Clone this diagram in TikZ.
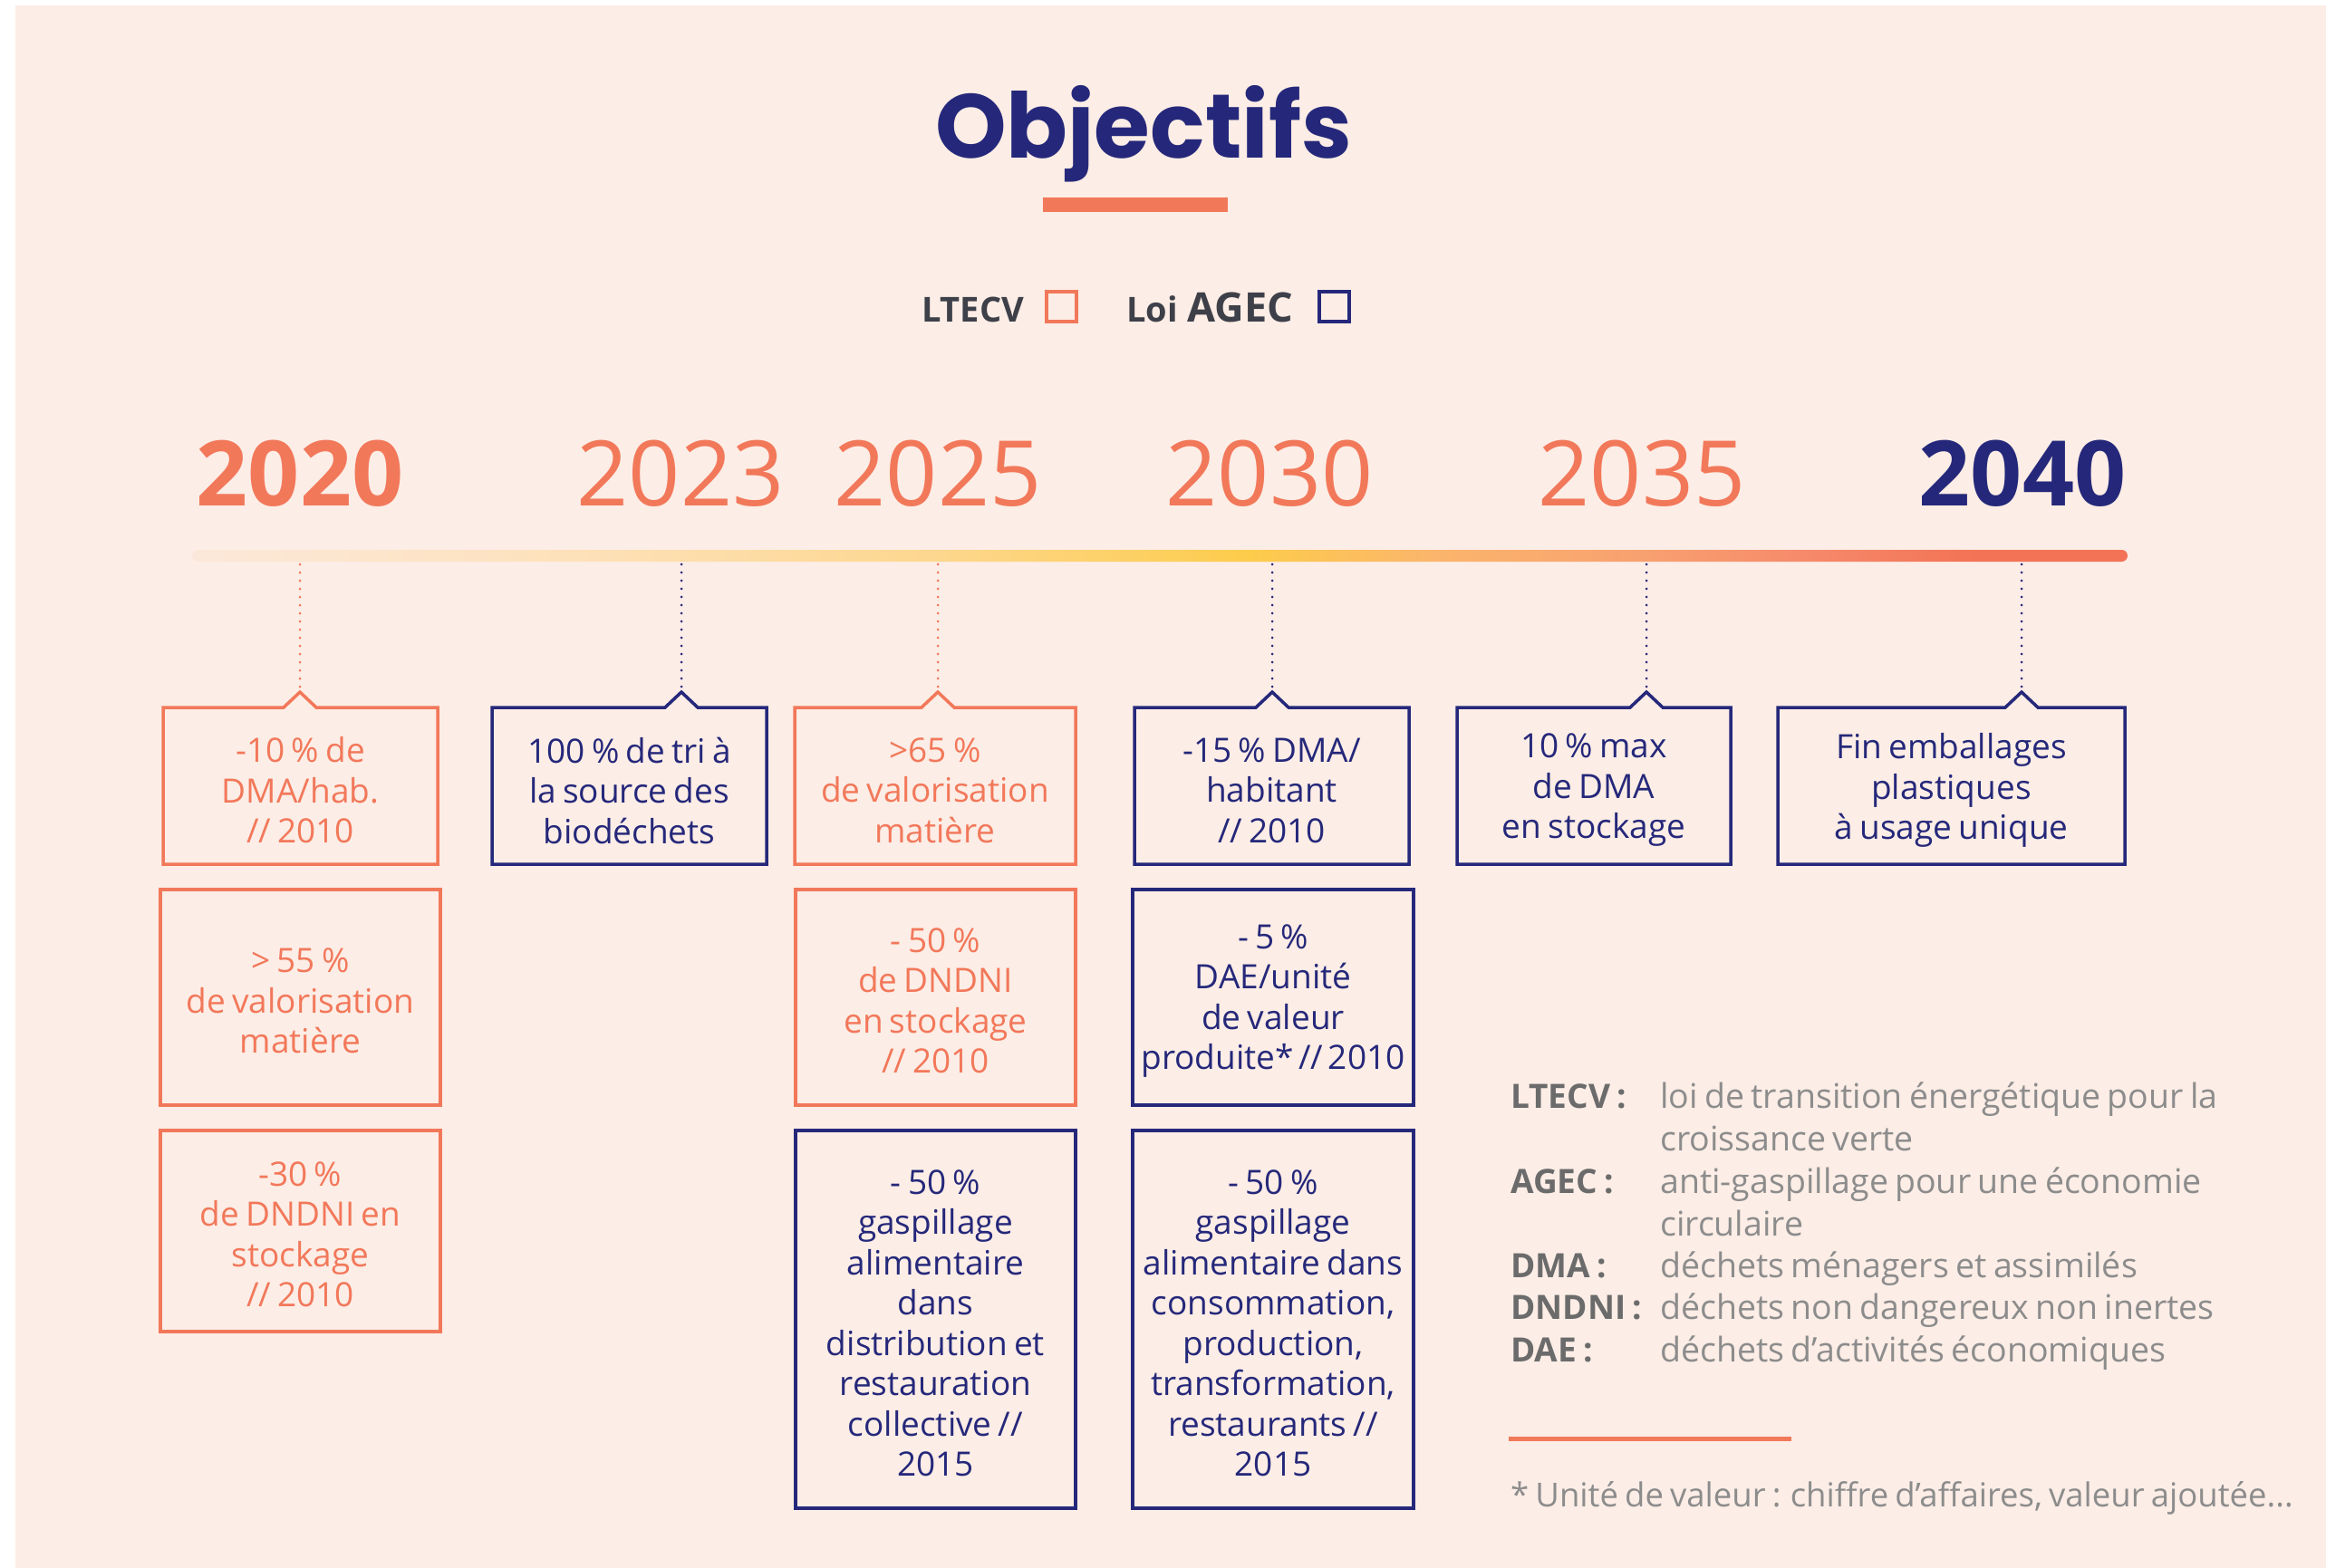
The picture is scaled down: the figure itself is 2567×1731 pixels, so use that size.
\documentclass[tikz,border=0pt]{standalone}
\usepackage{fontspec}
\setmainfont{Open Sans}[WordSpace=0.75]
\newfontfamily\titlefont{Poppins}
\usetikzlibrary{calc}
\definecolor{bg}{HTML}{FCEDE6}
\definecolor{coral}{HTML}{F2785A}
\definecolor{navy}{HTML}{25287A}
\definecolor{dgray}{HTML}{3E4049}
\definecolor{lgray}{HTML}{8C8C8C}
\definecolor{mgray}{HTML}{6B6B6B}
\definecolor{g0}{HTML}{FCE8DA}
\definecolor{g1}{HTML}{FDE3C2}
\definecolor{g2}{HTML}{FDD78F}
\definecolor{g3}{HTML}{FDCC4B}
\definecolor{g4}{HTML}{FBB56C}
\definecolor{g5}{HTML}{F8A070}
\definecolor{g6}{HTML}{F6896A}
\definecolor{g7}{HTML}{F37356}
\pgfdeclarehorizontalshading{tlbar}{100bp}{color(0bp)=(g0); color(25bp)=(g0); color(32.8bp)=(g1); color(44.2bp)=(g2); color(52.3bp)=(g3); color(57.1bp)=(g4); color(62.6bp)=(g5); color(66.8bp)=(g6); color(71bp)=(g7); color(75bp)=(g7); color(100bp)=(g7)}
\tikzset{
  boxshape/.style={inner sep=0pt, outer sep=0pt},
  boxtext/.style={align=center, inner sep=0pt, outer sep=0pt, yshift=-4pt, font=\fontsize{37}{44.5}\selectfont},
  ltbox/.style={boxtext, text=coral},
  agbox/.style={boxtext, text=navy},
  boxline/.style={line width=3.5pt, line join=miter},
  dotline/.style={line width=3pt, line cap=round, dash pattern=on 0pt off 9pt},
  yearbold/.style={anchor=base, inner sep=0pt, font=\bfseries\fontsize{100}{110}\selectfont},
  yearlight/.style={anchor=base, inner sep=0pt, text=coral, font=\fontsize{100}{110}\selectfont},
  deflabel/.style={anchor=base west, inner sep=0pt, text=mgray, font=\bfseries\fontsize{37}{40}\selectfont},
  deftext/.style={anchor=base west, inner sep=0pt, text=lgray, font=\fontsize{37.5}{40}\selectfont},
}
\newcommand\notchbox[3]{%
  \draw[boxline, #3] (#1.north west) -- ($(#2 |- #1.north)+(-18,0)$) -- (#2) -- ($(#2 |- #1.north)+(18,0)$) -- (#1.north east) -- (#1.south east) -- (#1.south west) -- cycle;}
\begin{document}
\begin{tikzpicture}[x=1pt,y=-1pt]
\useasboundingbox (0,0) rectangle (2567,1731);
\fill[white] (0,0) rectangle (2567,1731);
\fill[bg] (17,6) rectangle (2567,1731);

% title
\node[anchor=base, inner sep=0pt, text=navy, font=\titlefont\bfseries\fontsize{100}{110}\selectfont] (title) at (1262,175) {Objectifs};
\node[fill=coral, minimum width=204pt, minimum height=16pt, inner sep=0pt] (ul) at (1253,226) {};

% legend top
\node[anchor=base west, inner sep=0pt, text=dgray, font=\bfseries\fontsize{38}{40}\selectfont] (lt) at (1017,355) {LTECV};
\node[draw=coral, line width=3.5pt, minimum size=33pt, inner sep=0pt] (sqL) at (1171.5,338.5) {};
\node[anchor=base west, inner sep=0pt, text=dgray, font=\bfseries] (la) at (1243,355) {{\fontsize{38}{40}\selectfont Loi}\hspace{11pt}{\fontsize{45}{48}\selectfont AGEC}};
\node[draw=navy, line width=3.5pt, minimum size=33pt, inner sep=0pt] (sqA) at (1472.5,338.5) {};

% years
\node[yearbold, text=coral] (y2020) at (331,558) {2020};
\node[yearlight] (y2023) at (751,558) {2023};
\node[yearlight] (y2025) at (1035,558) {2025};
\node[yearlight] (y2030) at (1401,558) {2030};
\node[yearlight] (y2035) at (1812,558) {2035};
\node[yearbold, text=navy] (y2040) at (2232,558) {2040};

% timeline bar
\shade[shading=tlbar, rounded corners=6.5pt] (212,607) rectangle (2348,620);

% tick coordinates and notch apexes
\coordinate (t2020) at (331,623);  \coordinate (a2020) at (331,764);
\coordinate (t2023) at (752,623);  \coordinate (a2023) at (752,764);
\coordinate (t2025) at (1035,623); \coordinate (a2025) at (1035,764);
\coordinate (t2030) at (1404,623); \coordinate (a2030) at (1404,764);
\coordinate (t2035) at (1817,623); \coordinate (a2035) at (1817,764);
\coordinate (t2040) at (2231,623); \coordinate (a2040) at (2231,764);

\draw[dotline, coral] (t2020) -- (a2020);
\draw[dotline, navy] (t2023) -- (a2023);
\draw[dotline, coral] (t2025) -- (a2025);
\draw[dotline, navy] (t2030) -- (a2030);
\draw[dotline, navy] (t2035) -- (a2035);
\draw[dotline, navy] (t2040) -- (a2040);

% row 1
\node[boxshape, minimum width=303pt, minimum height=173pt] (A1) at (331.5,867.5) {};
\notchbox{A1}{a2020}{coral}
\node[ltbox, yshift=-1pt] (A1t) at (A1.center) {-10 \% de\\DMA/hab.\\// 2010};
\node[boxshape, minimum width=303pt, minimum height=173pt] (B1) at (694.5,867.5) {};
\notchbox{B1}{a2023}{navy}
\node[agbox, yshift=-1pt] (B1t) at (B1.center) {100 \% de tri à\\la source des\\biodéchets};
\node[boxshape, minimum width=310pt, minimum height=173pt] (C1) at (1032,867.5) {};
\notchbox{C1}{a2025}{coral}
\node[ltbox, yshift=-1pt] (C1t) at (C1.center) {>65 \%\\de valorisation\\matière};
\node[boxshape, minimum width=303pt, minimum height=173pt] (D1) at (1403.5,867.5) {};
\notchbox{D1}{a2030}{navy}
\node[agbox, yshift=-1pt] (D1t) at (D1.center) {-15 \% DMA/\\habitant\\// 2010};
\node[boxshape, minimum width=302pt, minimum height=173pt] (E1) at (1759,867.5) {};
\notchbox{E1}{a2035}{navy}
\node[agbox, yshift=-1pt] (E1t) at (E1.center) {10 \% max\\de DMA\\en stockage};
\node[boxshape, minimum width=383pt, minimum height=173pt] (F1) at (2153.5,867.5) {};
\notchbox{F1}{a2040}{navy}
\node[agbox, yshift=-1pt] (F1t) at (F1.center) {Fin emballages\\plastiques\\à usage unique};

% row 2
\node[boxshape, draw=coral, boxline, minimum width=309pt, minimum height=238pt] (A2) at (331.5,1101) {};
\node[ltbox] (A2t) at (A2.center) {> 55 \%\\de valorisation\\matière};
\node[boxshape, draw=coral, boxline, minimum width=309pt, minimum height=238pt] (C2) at (1032.5,1101) {};
\node[ltbox] (C2t) at (C2.center) {- 50 \%\\de DNDNI\\en stockage\\// 2010};
\node[boxshape, draw=navy, boxline, minimum width=310pt, minimum height=238pt] (D2) at (1405,1101) {};
\node[agbox] (D2t) at (D2.center) {- 5 \%\\DAE/unité\\de valeur\\produite*\hspace{0.15em}//\hspace{0.15em}2010};

% row 3
\node[boxshape, draw=coral, boxline, minimum width=309pt, minimum height=222pt] (A3) at (331.5,1359) {};
\node[ltbox] (A3t) at (A3.center) {-30 \%\\de DNDNI en\\stockage\\// 2010};
\node[boxshape, draw=navy, boxline, minimum width=309pt, minimum height=417pt] (C3) at (1032.5,1456.5) {};
\node[agbox] (C3t) at (C3.center) {- 50 \%\\gaspillage\\alimentaire\\dans\\distribution et\\restauration\\collective //\\2015};
\node[boxshape, draw=navy, boxline, minimum width=310pt, minimum height=417pt] (D3) at (1405,1456.5) {};
\node[agbox] (D3t) at (D3.center) {- 50 \%\\gaspillage\\alimentaire dans\\consommation,\\production,\\transformation,\\restaurants //\\2015};

% definitions
\node[deflabel] (l1) at (1667,1223) {LTECV :};
\node[deftext] (d1) at (1832,1223) {loi de transition énergétique pour la};
\node[deftext] (d1b) at (1832,1270) {croissance verte};
\node[deflabel] (l2) at (1667,1317) {AGEC :};
\node[deftext] (d2) at (1832,1317) {anti-gaspillage pour une économie};
\node[deftext] (d2b) at (1832,1364) {circulaire};
\node[deflabel] (l3) at (1667,1410) {DMA :};
\node[deftext] (d3) at (1832,1410) {déchets ménagers et assimilés};
\node[deflabel] (l4) at (1667,1456) {DNDNI :};
\node[deftext] (d4) at (1832,1456) {déchets non dangereux non inertes};
\node[deflabel] (l5) at (1667,1503) {DAE :};
\node[deftext] (d5) at (1832,1503) {déchets d’activités économiques};

\draw[coral, line width=5pt] (1665,1588) -- (1977,1588);

\node[deftext, font=\fontsize{36.5}{40}\selectfont] (foot) at (1667,1663) {* Unité de valeur : chiffre d'affaires, valeur ajoutée...};
\end{tikzpicture}
\end{document}
